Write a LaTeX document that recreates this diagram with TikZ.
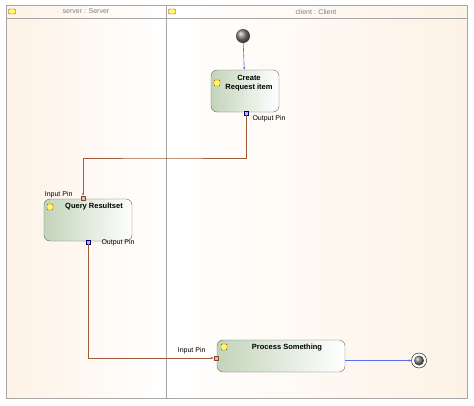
\documentclass[tikz,border=0pt]{standalone}
\usepackage{fontspec}
\setmainfont{Liberation Sans}
\usetikzlibrary{arrows.meta,shadings}
\definecolor{lanebg}{RGB}{253,242,230}
\definecolor{flow}{RGB}{160,90,60}
\definecolor{ctrlc}{RGB}{90,110,245}
\definecolor{actg}{RGB}{195,212,185}
\tikzset{
 act/.style={draw=black!60,rounded corners=6pt,left color=actg,right color=white},
 lbl/.style={font=\bfseries\fontsize{7.5}{9}\selectfont,align=center},
 pinlbl/.style={font=\fontsize{7}{8}\selectfont},
 ipin/.style={draw=flow!80!black,fill=flow!40,minimum size=4pt,inner sep=0pt},
 opin/.style={draw=blue!40!black,fill=blue!30,minimum size=4pt,inner sep=0pt},
 icon/.style={draw=orange!60!black,fill=yellow!60,rounded corners=1pt,minimum size=6pt,inner sep=0pt},
 conn/.style={line width=0.6pt,-{Stealth[length=3pt]}},
}
\begin{document}
\begin{tikzpicture}[x=1pt,y=-1pt]
\useasboundingbox (0,0) rectangle (474,405);
\fill[white] (0,0) rectangle (474,405);
\shade[left color=lanebg,right color=white] (6,5) rectangle (166,398);
\shade[left color=white,right color=lanebg] (166,5) rectangle (467,398);
\draw[gray!70] (6,5) rectangle (467,398);
\draw[gray!70] (6,18) -- (467,18);
\draw[gray!70] (166,5) -- (166,398);
\node[icon,minimum width=7pt,minimum height=5pt] (i1) at (12,11.5) {};
\node[icon,minimum width=7pt,minimum height=5pt] (i2) at (172,11.5) {};
\node[font=\fontsize{7}{8}\selectfont,text=gray] (l1) at (86,11.5) {server : Server};
\node[font=\fontsize{7}{8}\selectfont,text=gray] (l2) at (316,11.5) {client : Client};
% initial
\shade[ball color=gray] (243,36) circle (7);
\node[circle,minimum size=14pt,inner sep=0pt] (init) at (243,36) {};
% actions
\node[act,minimum width=68pt,minimum height=42pt] (cr) at (245,91) {};
\node[lbl] at (249,83) {Create\\Request item};
\node[icon] at (217,83) {};
\node[act,minimum width=88pt,minimum height=42pt] (qr) at (88,220) {};
\node[lbl] at (94,207) {Query Resultset};
\node[icon] at (50,207) {};
\node[act,minimum width=128pt,minimum height=32pt] (ps) at (281,356) {};
\node[lbl] at (287,348) {Process Something};
\node[icon] at (224,347) {};
% pins
\node[opin] (o1) at (246,113) {};
\node[pinlbl,anchor=west] at (249,119) {Output Pin};
\node[ipin] (in1) at (83,198) {};
\node[pinlbl,anchor=east] at (76,195) {Input Pin};
\node[opin] (o2) at (88,242) {};
\node[pinlbl,anchor=west] at (98,243) {Output Pin};
\node[ipin] (in2) at (216,358) {};
\node[pinlbl,anchor=east] at (209,351) {Input Pin};
% final
\node[circle,draw=black,fill=white,minimum size=15pt,inner sep=0pt] (fin) at (419,360.5) {};
\shade[ball color=gray] (419,360.5) circle (5);
\coordinate (pse) at (345,360.5);
% edges
\draw[conn,draw=ctrlc] (init) -- (cr);
\draw[conn,draw=flow] (o1) |- (160,158) -| (in1);
\draw[conn,draw=flow] (o2) |- (in2);
\draw[conn,draw=ctrlc,fill=ctrlc] (pse) -- (fin.west);
\end{tikzpicture}
\end{document}
